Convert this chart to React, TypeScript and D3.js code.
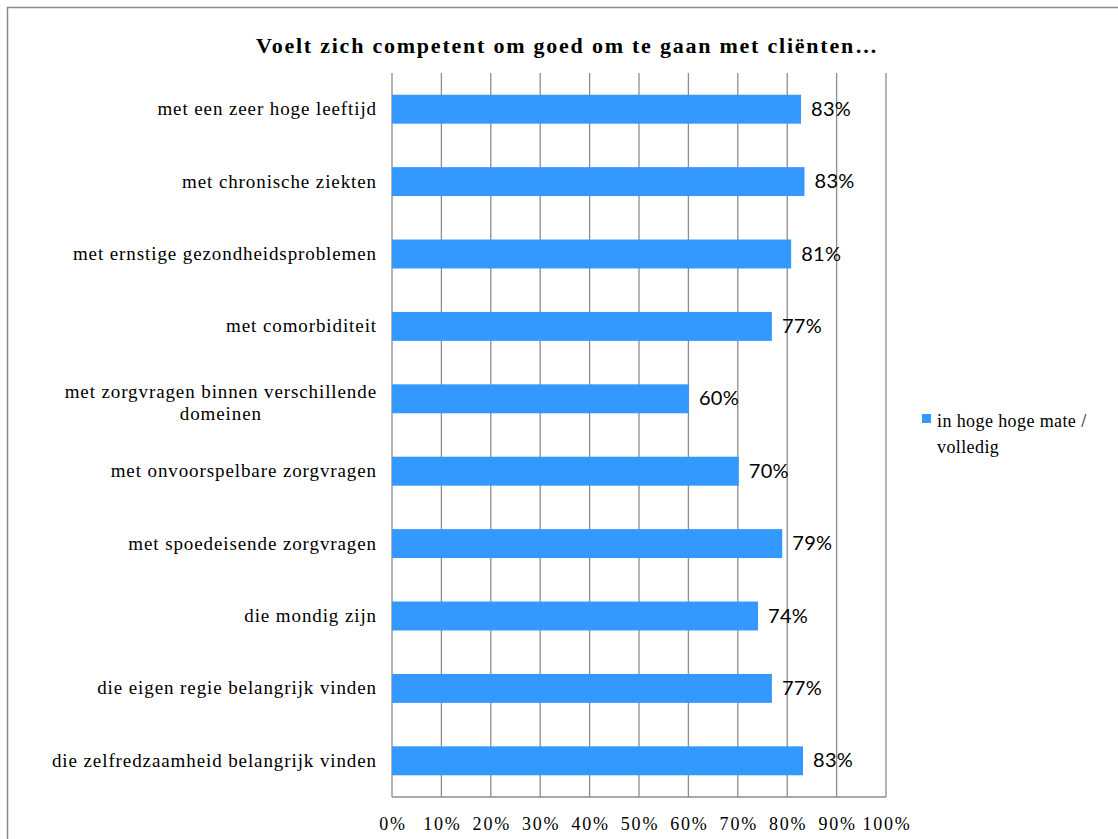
import React from "react";
import * as d3 from "d3";

const categories: string[] = [
  "met een zeer hoge leeftijd",
  "met chronische ziekten",
  "met ernstige gezondheidsproblemen",
  "met comorbiditeit",
  "met zorgvragen binnen verschillende|domeinen",
  "met onvoorspelbare zorgvragen",
  "met spoedeisende zorgvragen",
  "die mondig zijn",
  "die eigen regie belangrijk vinden",
  "die zelfredzaamheid belangrijk vinden",
];
const values: number[] = [82.8, 83.5, 80.8, 76.9, 60.1, 70.2, 79.0, 74.1, 76.9, 83.2];
const valueLabels: string[] = ["83%", "83%", "81%", "77%", "60%", "70%", "79%", "74%", "77%", "83%"];
const xTicks: number[] = [0, 10, 20, 30, 40, 50, 60, 70, 80, 90, 100];
const title = "Voelt zich competent om goed om te gaan met cliënten…";
const legendLines: string[] = ["in hoge hoge mate /", "volledig"];

const W = 1118;
const H = 839;
const plot = { left: 392, right: 886, top: 73, bottom: 797 };
const serif = "'Liberation Serif', 'Times New Roman', serif";
const sans = "Lato, 'Open Sans', sans-serif";
const barColor = "#3399FF";
const gridColor = "#8c8c8c";
const catFont = 19;
const catSpacing = 0.9;

function measure(text: string, font: string, spacing: number): number {
  const c = document.createElement("canvas").getContext("2d");
  if (!c) return text.length * 9;
  c.font = font;
  return c.measureText(text).width + spacing * text.length;
}

export default function App() {
  const x = d3.scaleLinear().domain([0, 100]).range([plot.left, plot.right]);
  const y = d3
    .scaleBand<string>()
    .domain(categories)
    .range([plot.top, plot.bottom])
    .paddingInner(0.6)
    .paddingOuter(0.3);
  const labelX = 377;

  return (
    <svg
      width={W}
      height={H}
      style={{ position: "absolute", left: 0, top: 0, background: "#fff" }}
    >
      <rect x={7.5} y={7.5} width={W + 20} height={H + 20} fill="#fff" stroke="#8a8a8a" strokeWidth={1.5} />
      <text
        x={256}
        y={53}
        fontFamily={serif}
        fontWeight="bold"
        fontSize={22}
        fill="#000"
        textLength={621}
        lengthAdjust="spacing"
      >
        {title}
      </text>
      {xTicks.map((t) => (
        <line
          key={"g" + t}
          x1={x(t)}
          x2={x(t)}
          y1={plot.top}
          y2={plot.bottom}
          stroke={gridColor}
          strokeWidth={1.3}
        />
      ))}
      <line x1={plot.left} x2={plot.right} y1={plot.bottom} y2={plot.bottom} stroke={gridColor} strokeWidth={1.3} />
      {xTicks.map((t) => (
        <text
          key={"t" + t}
          x={x(t) + 1}
          y={plot.bottom + 33}
          textAnchor="middle"
          fontFamily={serif}
          fontSize={18}
          letterSpacing={1.8}
          fill="#000"
        >
          {t + "%"}
        </text>
      ))}
      {categories.map((c, i) => {
        const yy = (y(c) ?? 0) + y.bandwidth() / 2;
        return (
          <g key={c}>
            <rect
              x={x(0)}
              y={y(c)}
              width={x(values[i]) - x(0)}
              height={y.bandwidth()}
              fill={barColor}
            />
            <text
              x={x(values[i]) + 10}
              y={yy + 6.5}
              fontFamily={sans}
              fontSize={20}
              letterSpacing={0.3}
              fill="#000"
            >
              {valueLabels[i]}
            </text>
          </g>
        );
      })}
      {categories.map((c) => {
        const yy = (y(c) ?? 0) + y.bandwidth() / 2;
        const lines = c.split("|");
        if (lines.length === 1) {
          return (
            <text
              key={"l" + c}
              x={labelX}
              y={yy + 6}
              textAnchor="end"
              fontFamily={serif}
              fontSize={catFont}
              letterSpacing={catSpacing}
              fill="#000"
            >
              {c}
            </text>
          );
        }
        const font = `${catFont}px ${serif}`;
        const wMax = Math.max(...lines.map((l) => measure(l, font, catSpacing)));
        const cx = labelX - wMax / 2;
        return (
          <text
            key={"l" + c}
            textAnchor="middle"
            fontFamily={serif}
            fontSize={catFont}
            letterSpacing={catSpacing}
            fill="#000"
          >
            {lines.map((l, k) => (
              <tspan key={k} x={cx} y={yy - 1 + k * 22}>
                {l}
              </tspan>
            ))}
          </text>
        );
      })}
      <rect x={922} y={414} width={9} height={9} fill={barColor} />
      {legendLines.map((l, k) => (
        <text key={l} x={937} y={427 + k * 26} fontFamily={serif} fontSize={18} letterSpacing={0.4} fill="#000">
          {l}
        </text>
      ))}
    </svg>
  );
}
